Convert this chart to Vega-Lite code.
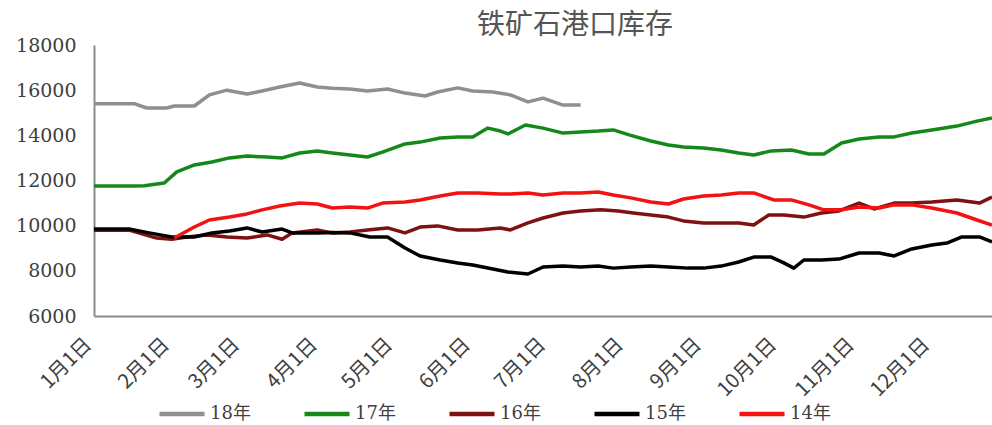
{
  "$schema": "https://vega.github.io/schema/vega-lite/v6.json",
  "autosize": {"type": "none"},
  "width": 898,
  "height": 271,
  "padding": {"left": 94, "top": 45, "right": 0, "bottom": 109},
  "background": "white",
  "title": {
    "text": "铁矿石港口库存",
    "anchor": "middle",
    "dx": 32,
    "offset": -4,
    "font": "Noto Sans CJK SC",
    "fontSize": 28,
    "fontWeight": "normal",
    "color": "#555555"
  },
  "config": {"view": {"stroke": null}},
  "data": {
    "values": [
      {"s": "18年", "d": "2001-01-01", "v": 15400},
      {"s": "18年", "d": "2001-01-09", "v": 15400},
      {"s": "18年", "d": "2001-01-17", "v": 15400},
      {"s": "18年", "d": "2001-01-22", "v": 15210},
      {"s": "18年", "d": "2001-01-30", "v": 15210},
      {"s": "18年", "d": "2001-02-02", "v": 15300},
      {"s": "18年", "d": "2001-02-10", "v": 15300},
      {"s": "18年", "d": "2001-02-16", "v": 15790},
      {"s": "18年", "d": "2001-02-23", "v": 16000},
      {"s": "18年", "d": "2001-03-03", "v": 15830},
      {"s": "18年", "d": "2001-03-09", "v": 15960},
      {"s": "18年", "d": "2001-03-16", "v": 16140},
      {"s": "18年", "d": "2001-03-24", "v": 16320},
      {"s": "18年", "d": "2001-03-31", "v": 16140},
      {"s": "18年", "d": "2001-04-06", "v": 16090},
      {"s": "18年", "d": "2001-04-13", "v": 16050},
      {"s": "18年", "d": "2001-04-20", "v": 15960},
      {"s": "18年", "d": "2001-04-28", "v": 16050},
      {"s": "18年", "d": "2001-05-05", "v": 15870},
      {"s": "18年", "d": "2001-05-13", "v": 15740},
      {"s": "18年", "d": "2001-05-18", "v": 15920},
      {"s": "18年", "d": "2001-05-26", "v": 16100},
      {"s": "18年", "d": "2001-06-01", "v": 15960},
      {"s": "18年", "d": "2001-06-09", "v": 15920},
      {"s": "18年", "d": "2001-06-16", "v": 15790},
      {"s": "18年", "d": "2001-06-23", "v": 15480},
      {"s": "18年", "d": "2001-06-29", "v": 15650},
      {"s": "18年", "d": "2001-07-07", "v": 15340},
      {"s": "18年", "d": "2001-07-14", "v": 15340},

      {"s": "17年", "d": "2001-01-01", "v": 11760},
      {"s": "17年", "d": "2001-01-09", "v": 11760},
      {"s": "17年", "d": "2001-01-17", "v": 11760},
      {"s": "17年", "d": "2001-01-21", "v": 11770},
      {"s": "17年", "d": "2001-01-29", "v": 11890},
      {"s": "17年", "d": "2001-02-03", "v": 12380},
      {"s": "17年", "d": "2001-02-10", "v": 12690},
      {"s": "17年", "d": "2001-02-17", "v": 12820},
      {"s": "17年", "d": "2001-02-24", "v": 13000},
      {"s": "17年", "d": "2001-03-03", "v": 13080},
      {"s": "17年", "d": "2001-03-11", "v": 13040},
      {"s": "17年", "d": "2001-03-17", "v": 13000},
      {"s": "17年", "d": "2001-03-24", "v": 13220},
      {"s": "17年", "d": "2001-03-31", "v": 13310},
      {"s": "17年", "d": "2001-04-06", "v": 13220},
      {"s": "17年", "d": "2001-04-13", "v": 13130},
      {"s": "17年", "d": "2001-04-20", "v": 13040},
      {"s": "17年", "d": "2001-04-26", "v": 13260},
      {"s": "17年", "d": "2001-05-05", "v": 13620},
      {"s": "17年", "d": "2001-05-11", "v": 13700},
      {"s": "17年", "d": "2001-05-19", "v": 13880},
      {"s": "17年", "d": "2001-05-26", "v": 13930},
      {"s": "17年", "d": "2001-06-01", "v": 13930},
      {"s": "17年", "d": "2001-06-07", "v": 14320},
      {"s": "17年", "d": "2001-06-12", "v": 14190},
      {"s": "17年", "d": "2001-06-15", "v": 14060},
      {"s": "17年", "d": "2001-06-22", "v": 14460},
      {"s": "17年", "d": "2001-06-29", "v": 14320},
      {"s": "17年", "d": "2001-07-07", "v": 14100},
      {"s": "17年", "d": "2001-07-14", "v": 14150},
      {"s": "17年", "d": "2001-07-21", "v": 14190},
      {"s": "17年", "d": "2001-07-27", "v": 14240},
      {"s": "17年", "d": "2001-08-03", "v": 14000},
      {"s": "17年", "d": "2001-08-11", "v": 13750},
      {"s": "17年", "d": "2001-08-18", "v": 13570},
      {"s": "17年", "d": "2001-08-24", "v": 13480},
      {"s": "17年", "d": "2001-09-01", "v": 13440},
      {"s": "17年", "d": "2001-09-08", "v": 13350},
      {"s": "17年", "d": "2001-09-15", "v": 13220},
      {"s": "17年", "d": "2001-09-21", "v": 13130},
      {"s": "17年", "d": "2001-09-28", "v": 13310},
      {"s": "17年", "d": "2001-10-06", "v": 13350},
      {"s": "17年", "d": "2001-10-13", "v": 13170},
      {"s": "17年", "d": "2001-10-19", "v": 13170},
      {"s": "17年", "d": "2001-10-26", "v": 13660},
      {"s": "17年", "d": "2001-11-02", "v": 13840},
      {"s": "17年", "d": "2001-11-10", "v": 13930},
      {"s": "17年", "d": "2001-11-16", "v": 13930},
      {"s": "17年", "d": "2001-11-23", "v": 14100},
      {"s": "17年", "d": "2001-12-01", "v": 14240},
      {"s": "17年", "d": "2001-12-11", "v": 14410},
      {"s": "17年", "d": "2001-12-19", "v": 14630},
      {"s": "17年", "d": "2001-12-25", "v": 14770},

      {"s": "16年", "d": "2001-01-01", "v": 9800},
      {"s": "16年", "d": "2001-01-09", "v": 9800},
      {"s": "16年", "d": "2001-01-15", "v": 9800},
      {"s": "16年", "d": "2001-01-26", "v": 9450},
      {"s": "16年", "d": "2001-02-01", "v": 9400},
      {"s": "16年", "d": "2001-02-07", "v": 9500},
      {"s": "16年", "d": "2001-02-15", "v": 9590},
      {"s": "16年", "d": "2001-02-23", "v": 9500},
      {"s": "16年", "d": "2001-03-03", "v": 9450},
      {"s": "16年", "d": "2001-03-11", "v": 9590},
      {"s": "16年", "d": "2001-03-17", "v": 9400},
      {"s": "16年", "d": "2001-03-21", "v": 9680},
      {"s": "16年", "d": "2001-03-31", "v": 9810},
      {"s": "16年", "d": "2001-04-06", "v": 9680},
      {"s": "16年", "d": "2001-04-13", "v": 9720},
      {"s": "16年", "d": "2001-04-20", "v": 9810},
      {"s": "16年", "d": "2001-04-28", "v": 9900},
      {"s": "16年", "d": "2001-05-05", "v": 9680},
      {"s": "16年", "d": "2001-05-11", "v": 9940},
      {"s": "16年", "d": "2001-05-18", "v": 9990},
      {"s": "16年", "d": "2001-05-26", "v": 9810},
      {"s": "16年", "d": "2001-06-03", "v": 9810},
      {"s": "16年", "d": "2001-06-12", "v": 9900},
      {"s": "16年", "d": "2001-06-16", "v": 9810},
      {"s": "16年", "d": "2001-06-23", "v": 10120},
      {"s": "16年", "d": "2001-06-29", "v": 10340},
      {"s": "16年", "d": "2001-07-07", "v": 10560},
      {"s": "16年", "d": "2001-07-14", "v": 10650},
      {"s": "16年", "d": "2001-07-22", "v": 10700},
      {"s": "16年", "d": "2001-07-29", "v": 10650},
      {"s": "16年", "d": "2001-08-04", "v": 10560},
      {"s": "16年", "d": "2001-08-11", "v": 10470},
      {"s": "16年", "d": "2001-08-18", "v": 10380},
      {"s": "16年", "d": "2001-08-24", "v": 10210},
      {"s": "16年", "d": "2001-09-01", "v": 10120},
      {"s": "16年", "d": "2001-09-08", "v": 10120},
      {"s": "16年", "d": "2001-09-15", "v": 10120},
      {"s": "16年", "d": "2001-09-21", "v": 10030},
      {"s": "16年", "d": "2001-09-27", "v": 10470},
      {"s": "16年", "d": "2001-10-03", "v": 10470},
      {"s": "16年", "d": "2001-10-11", "v": 10380},
      {"s": "16年", "d": "2001-10-18", "v": 10560},
      {"s": "16年", "d": "2001-10-25", "v": 10650},
      {"s": "16年", "d": "2001-11-02", "v": 11000},
      {"s": "16年", "d": "2001-11-08", "v": 10740},
      {"s": "16年", "d": "2001-11-16", "v": 11000},
      {"s": "16年", "d": "2001-11-23", "v": 11000},
      {"s": "16年", "d": "2001-12-01", "v": 11050},
      {"s": "16年", "d": "2001-12-11", "v": 11140},
      {"s": "16年", "d": "2001-12-20", "v": 11000},
      {"s": "16年", "d": "2001-12-25", "v": 11270},

      {"s": "15年", "d": "2001-01-01", "v": 9850},
      {"s": "15年", "d": "2001-01-09", "v": 9850},
      {"s": "15年", "d": "2001-01-15", "v": 9850},
      {"s": "15年", "d": "2001-01-23", "v": 9680},
      {"s": "15年", "d": "2001-02-01", "v": 9500},
      {"s": "15年", "d": "2001-02-10", "v": 9500},
      {"s": "15年", "d": "2001-02-17", "v": 9680},
      {"s": "15年", "d": "2001-02-24", "v": 9760},
      {"s": "15年", "d": "2001-03-03", "v": 9900},
      {"s": "15年", "d": "2001-03-09", "v": 9720},
      {"s": "15年", "d": "2001-03-17", "v": 9850},
      {"s": "15年", "d": "2001-03-21", "v": 9680},
      {"s": "15年", "d": "2001-03-31", "v": 9680},
      {"s": "15年", "d": "2001-04-06", "v": 9700},
      {"s": "15年", "d": "2001-04-13", "v": 9680},
      {"s": "15年", "d": "2001-04-21", "v": 9500},
      {"s": "15年", "d": "2001-04-28", "v": 9500},
      {"s": "15年", "d": "2001-05-05", "v": 9010},
      {"s": "15年", "d": "2001-05-11", "v": 8660},
      {"s": "15年", "d": "2001-05-19", "v": 8480},
      {"s": "15年", "d": "2001-05-26", "v": 8350},
      {"s": "15年", "d": "2001-06-01", "v": 8260},
      {"s": "15年", "d": "2001-06-08", "v": 8100},
      {"s": "15年", "d": "2001-06-15", "v": 7950},
      {"s": "15年", "d": "2001-06-23", "v": 7860},
      {"s": "15年", "d": "2001-06-29", "v": 8170},
      {"s": "15年", "d": "2001-07-07", "v": 8210},
      {"s": "15年", "d": "2001-07-14", "v": 8170},
      {"s": "15年", "d": "2001-07-21", "v": 8210},
      {"s": "15年", "d": "2001-07-27", "v": 8120},
      {"s": "15年", "d": "2001-08-03", "v": 8170},
      {"s": "15年", "d": "2001-08-11", "v": 8210},
      {"s": "15年", "d": "2001-08-18", "v": 8170},
      {"s": "15年", "d": "2001-08-26", "v": 8120},
      {"s": "15年", "d": "2001-09-01", "v": 8120},
      {"s": "15年", "d": "2001-09-08", "v": 8210},
      {"s": "15年", "d": "2001-09-15", "v": 8390},
      {"s": "15年", "d": "2001-09-21", "v": 8610},
      {"s": "15年", "d": "2001-09-28", "v": 8610},
      {"s": "15年", "d": "2001-10-03", "v": 8350},
      {"s": "15年", "d": "2001-10-07", "v": 8120},
      {"s": "15年", "d": "2001-10-11", "v": 8480},
      {"s": "15年", "d": "2001-10-18", "v": 8480},
      {"s": "15年", "d": "2001-10-25", "v": 8520},
      {"s": "15年", "d": "2001-11-02", "v": 8790},
      {"s": "15年", "d": "2001-11-10", "v": 8790},
      {"s": "15年", "d": "2001-11-16", "v": 8660},
      {"s": "15年", "d": "2001-11-23", "v": 8970},
      {"s": "15年", "d": "2001-12-01", "v": 9140},
      {"s": "15年", "d": "2001-12-07", "v": 9230},
      {"s": "15年", "d": "2001-12-13", "v": 9500},
      {"s": "15年", "d": "2001-12-20", "v": 9500},
      {"s": "15年", "d": "2001-12-25", "v": 9280},

      {"s": "14年", "d": "2001-02-02", "v": 9450},
      {"s": "14年", "d": "2001-02-10", "v": 9940},
      {"s": "14年", "d": "2001-02-16", "v": 10250},
      {"s": "14年", "d": "2001-02-24", "v": 10380},
      {"s": "14年", "d": "2001-03-03", "v": 10520},
      {"s": "14年", "d": "2001-03-09", "v": 10700},
      {"s": "14年", "d": "2001-03-16", "v": 10870},
      {"s": "14年", "d": "2001-03-24", "v": 11000},
      {"s": "14年", "d": "2001-03-31", "v": 10960},
      {"s": "14年", "d": "2001-04-06", "v": 10780},
      {"s": "14年", "d": "2001-04-13", "v": 10830},
      {"s": "14年", "d": "2001-04-20", "v": 10780},
      {"s": "14年", "d": "2001-04-26", "v": 11000},
      {"s": "14年", "d": "2001-05-05", "v": 11050},
      {"s": "14年", "d": "2001-05-11", "v": 11140},
      {"s": "14年", "d": "2001-05-19", "v": 11310},
      {"s": "14年", "d": "2001-05-26", "v": 11450},
      {"s": "14年", "d": "2001-06-03", "v": 11450},
      {"s": "14年", "d": "2001-06-12", "v": 11400},
      {"s": "14年", "d": "2001-06-16", "v": 11400},
      {"s": "14年", "d": "2001-06-23", "v": 11450},
      {"s": "14年", "d": "2001-06-29", "v": 11360},
      {"s": "14年", "d": "2001-07-07", "v": 11450},
      {"s": "14年", "d": "2001-07-14", "v": 11450},
      {"s": "14年", "d": "2001-07-21", "v": 11490},
      {"s": "14年", "d": "2001-07-27", "v": 11360},
      {"s": "14年", "d": "2001-08-03", "v": 11230},
      {"s": "14年", "d": "2001-08-11", "v": 11050},
      {"s": "14年", "d": "2001-08-18", "v": 10960},
      {"s": "14年", "d": "2001-08-24", "v": 11180},
      {"s": "14年", "d": "2001-09-01", "v": 11310},
      {"s": "14年", "d": "2001-09-08", "v": 11360},
      {"s": "14年", "d": "2001-09-15", "v": 11450},
      {"s": "14年", "d": "2001-09-21", "v": 11450},
      {"s": "14年", "d": "2001-09-29", "v": 11140},
      {"s": "14年", "d": "2001-10-06", "v": 11140},
      {"s": "14年", "d": "2001-10-13", "v": 10920},
      {"s": "14年", "d": "2001-10-19", "v": 10700},
      {"s": "14年", "d": "2001-10-26", "v": 10700},
      {"s": "14年", "d": "2001-11-02", "v": 10830},
      {"s": "14年", "d": "2001-11-10", "v": 10780},
      {"s": "14年", "d": "2001-11-16", "v": 10920},
      {"s": "14年", "d": "2001-11-23", "v": 10920},
      {"s": "14年", "d": "2001-12-01", "v": 10780},
      {"s": "14年", "d": "2001-12-11", "v": 10560},
      {"s": "14年", "d": "2001-12-19", "v": 10250},
      {"s": "14年", "d": "2001-12-25", "v": 10030}
    ]
  },
  "mark": {"type": "line", "strokeWidth": 3.5, "clip": true, "strokeJoin": "round"},
  "encoding": {
    "x": {
      "field": "d",
      "type": "temporal",
      "scale": {
        "type": "utc",
        "domain": [
          {"year": 2001, "month": 1, "date": 1, "utc": true},
          {"year": 2001, "month": 12, "date": 25, "utc": true}
        ]
      },
      "axis": {
        "title": null,
        "grid": false,
        "ticks": false,
        "domainColor": "#8c8c8c",
        "domainWidth": 2,
        "values": [
          {"year": 2001, "month": 1, "date": 1, "utc": true},
          {"year": 2001, "month": 2, "date": 1, "utc": true},
          {"year": 2001, "month": 3, "date": 1, "utc": true},
          {"year": 2001, "month": 4, "date": 1, "utc": true},
          {"year": 2001, "month": 5, "date": 1, "utc": true},
          {"year": 2001, "month": 6, "date": 1, "utc": true},
          {"year": 2001, "month": 7, "date": 1, "utc": true},
          {"year": 2001, "month": 8, "date": 1, "utc": true},
          {"year": 2001, "month": 9, "date": 1, "utc": true},
          {"year": 2001, "month": 10, "date": 1, "utc": true},
          {"year": 2001, "month": 11, "date": 1, "utc": true},
          {"year": 2001, "month": 12, "date": 1, "utc": true}
        ],
        "labelExpr": "(utcmonth(datum.value) + 1) + '月' + utcdate(datum.value) + '日'",
        "labelAngle": -45,
        "labelAlign": "right",
        "labelBaseline": "middle",
        "labelPadding": 25,
        "labelOffset": -6,
        "labelFont": "Noto Sans CJK SC",
        "labelFontSize": 20,
        "labelColor": "#404040",
        "labelOverlap": false,
        "labelFlush": false
      }
    },
    "y": {
      "field": "v",
      "type": "quantitative",
      "scale": {"domain": [6000, 18000], "nice": false, "zero": false},
      "axis": {
        "title": null,
        "grid": false,
        "ticks": false,
        "values": [6000, 8000, 10000, 12000, 14000, 16000, 18000],
        "format": "d",
        "domainColor": "#8c8c8c",
        "domainWidth": 2,
        "labelFont": "DejaVu Serif",
        "labelFontSize": 19,
        "labelColor": "#404040",
        "labelPadding": 18,
        "labelFlush": false
      }
    },
    "color": {
      "field": "s",
      "type": "nominal",
      "scale": {
        "domain": ["18年", "17年", "16年", "15年", "14年"],
        "range": ["#8f8f8f", "#14891a", "#7f1111", "#000000", "#f21212"]
      },
      "legend": {
        "title": null,
        "orient": "none",
        "direction": "horizontal",
        "legendX": 63,
        "legendY": 344,
        "symbolType": "stroke",
        "symbolSize": 2025,
        "symbolStrokeWidth": 4.5,
        "labelFont": "DejaVu Serif, Noto Sans CJK SC",
        "labelFontSize": 18,
        "labelColor": "#404040",
        "labelOffset": 3,
        "columnPadding": 44,
        "padding": 0
      }
    }
  }
}
